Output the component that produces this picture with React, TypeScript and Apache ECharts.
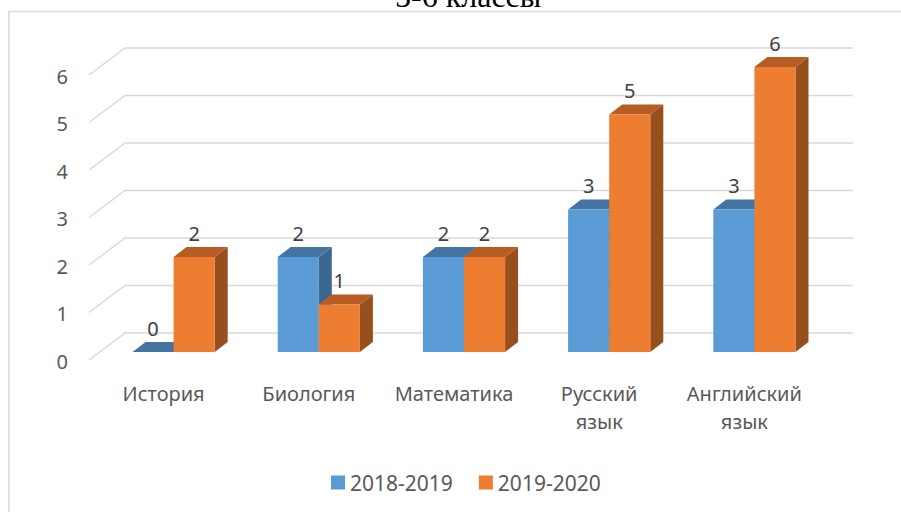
import React, { useEffect, useRef } from 'react';
import * as echarts from 'echarts';

const titleText = '5-6 классы';
const categories = ['История', 'Биология', 'Математика', 'Русский\nязык', 'Английский\nязык'];
const seriesNames = ['2018-2019', '2019-2020'];
const values2018 = [0, 2, 2, 3, 3];
const values2019 = [2, 1, 2, 5, 6];
const yTicks = [0, 1, 2, 3, 4, 5, 6];

const FONT = '"Noto Sans", "Open Sans", sans-serif';
const palettes = [
  { front: '#5B9BD5', top: '#4474A2', side: '#3B6790' },
  { front: '#ED7D31', top: '#B75C22', side: '#984F1E' },
];
const DX = 13;
const DY = 10;

function makeBarSeries(name: string, values: number[], si: number) {
  const pal = palettes[si];
  return {
    type: 'custom',
    name,
    xAxisIndex: 0,
    yAxisIndex: 0,
    z: 3 + si,
    itemStyle: { color: pal.front },
    encode: { x: 0, y: 1 },
    data: values.map((v, i) => [i, v]),
    renderItem: (params: any, api: any) => {
      const ci = api.value(0);
      const v = api.value(1);
      const base = api.coord([ci, 0]);
      const top = api.coord([ci, v]);
      const band = api.size([1, 0])[0];
      const bw = band * 0.283;
      const x0 = si === 0 ? base[0] - bw : base[0];
      const x1 = x0 + bw;
      const yT = top[1];
      const yB = base[1];
      return {
        type: 'group',
        children: [
          {
            type: 'polygon',
            shape: { points: [[x1, yT], [x1 + DX, yT - DY], [x1 + DX, yB - DY], [x1, yB]] },
            style: { fill: pal.side },
          },
          {
            type: 'polygon',
            shape: { points: [[x0, yT], [x0 + DX, yT - DY], [x1 + DX, yT - DY], [x1, yT]] },
            style: { fill: pal.top },
          },
          {
            type: 'rect',
            shape: { x: x0, y: yT, width: bw, height: yB - yT },
            style: { fill: pal.front },
          },
          {
            type: 'text',
            style: {
              text: String(v),
              x: (x0 + x1) / 2,
              y: yT - 24,
              align: 'center',
              verticalAlign: 'middle',
              fill: '#404040',
              font: '20px ' + FONT,
            },
          },
        ],
      };
    },
  };
}

export default function App() {
  const ref = useRef<HTMLDivElement>(null);
  useEffect(() => {
    if (!ref.current) return;
    const chart = echarts.init(ref.current, null, { renderer: 'svg' });
    const option: any = {
      animation: false,
      backgroundColor: '#ffffff',
      title: {
        text: titleText,
        left: 390,
        top: -25,
        textStyle: { fontFamily: '"Liberation Serif", serif', fontSize: 32, fontWeight: 'normal', color: '#000000' },
      },
      graphic: [
        {
          type: 'rect',
          shape: { x: 9, y: 11.5, width: 1000, height: 1000 },
          style: { fill: 'none', stroke: '#d9d9d9', lineWidth: 1.5 },
          silent: true,
        },
      ],
      legend: {
        data: seriesNames,
        left: 326,
        top: 467,
        icon: 'rect',
        itemWidth: 14,
        itemHeight: 14,
        itemGap: 26,
        textStyle: { fontFamily: FONT, fontSize: 21, color: '#595959', padding: [0, 0, 0, 0] },
      },
      grid: [
        { left: 101, right: 74, top: 67, bottom: 160 },
        { left: 91, right: 84, top: 67, bottom: 160 },
        { left: 76, width: 10, top: 76, bottom: 151 },
      ],
      xAxis: [
        { type: 'category', data: categories, gridIndex: 0, show: false },
        {
          type: 'category',
          data: categories,
          gridIndex: 1,
          axisLine: { show: false },
          axisTick: { show: false },
          splitLine: { show: false },
          axisLabel: {
            interval: 0,
            margin: 27,
            color: '#595959',
            fontFamily: FONT,
            fontSize: 20,
            lineHeight: 28,
          },
        },
        { type: 'category', data: categories, gridIndex: 2, show: false },
      ],
      yAxis: [
        { type: 'value', gridIndex: 0, min: 0, max: 6, interval: 1, show: false },
        { type: 'value', gridIndex: 1, min: 0, max: 6, interval: 1, show: false },
        {
          type: 'value',
          gridIndex: 2,
          min: 0,
          max: 6,
          interval: 1,
          axisLine: { show: false },
          axisTick: { show: false },
          splitLine: { show: false },
          axisLabel: { margin: 8, color: '#595959', fontFamily: FONT, fontSize: 20 },
        },
      ],
      series: [
        {
          type: 'custom',
          name: 'grid',
          xAxisIndex: 0,
          yAxisIndex: 0,
          z: 1,
          silent: true,
          encode: { x: 0, y: 1 },
          data: yTicks.map((v) => [0, v]),
          renderItem: (params: any, api: any) => {
            const v = api.value(1);
            const p = api.coord([0, v]);
            const cs = params.coordSys;
            return {
              type: 'polyline',
              shape: {
                points: [
                  [cs.x - 12, p[1] + 8],
                  [cs.x + 24, p[1] - 19],
                  [cs.x + cs.width + 26, p[1] - 19],
                ],
              },
              style: { fill: 'none', stroke: '#d9d9d9', lineWidth: 1.5 },
            };
          },
        },
        makeBarSeries(seriesNames[0], values2018, 0),
        makeBarSeries(seriesNames[1], values2019, 1),
      ],
    };
    chart.setOption(option);
    return () => chart.dispose();
  }, []);
  return (
    <div
      ref={ref}
      style={{ position: 'fixed', left: 0, top: 0, width: 901, height: 512 }}
    />
  );
}
